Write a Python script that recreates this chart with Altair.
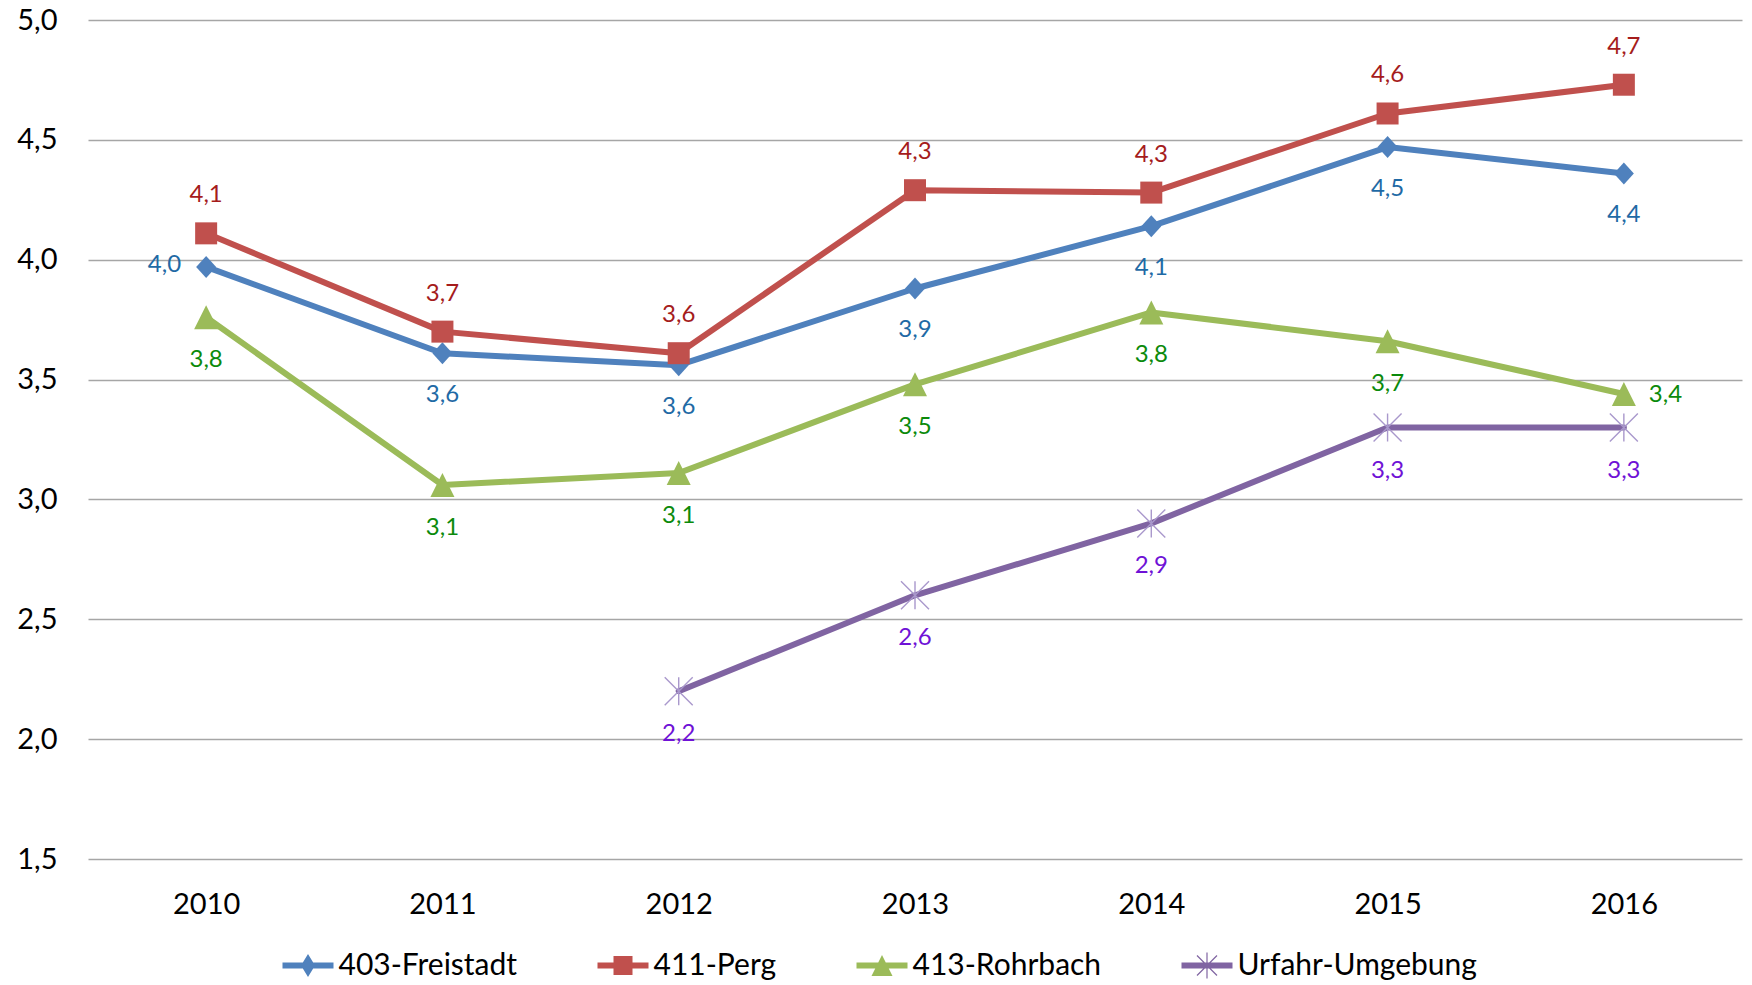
import altair as alt
import pandas as pd

years = ["2010", "2011", "2012", "2013", "2014", "2015", "2016"]
series = ["403-Freistadt", "411-Perg", "413-Rohrbach", "Urfahr-Umgebung"]
freistadt = [3.97, 3.61, 3.56, 3.88, 4.14, 4.47, 4.36]
perg = [4.11, 3.70, 3.61, 4.29, 4.28, 4.61, 4.73]
rohrbach = [3.76, 3.06, 3.11, 3.48, 3.78, 3.66, 3.44]
urfahr = [None, None, 2.20, 2.60, 2.90, 3.30, 3.30]
y_ticks = [1.5, 2.0, 2.5, 3.0, 3.5, 4.0, 4.5, 5.0]

line_colors = ["#4f81bd", "#c0504d", "#9bbb59", "#8064a2"]
label_colors = ["#1f6aa5", "#a51c1c", "#0b8a0b", "#6f12d6"]

rows = []
for s, vals in zip(series, [freistadt, perg, rohrbach, urfahr]):
    for yr, v in zip(years, vals):
        if v is not None:
            rows.append({"year": yr, "series": s, "value": v})
df = pd.DataFrame(rows)

FONT = "Lato"


def bar(x1, y1, x2, y2, w):
    import math
    dx, dy = x2 - x1, y2 - y1
    L = math.hypot(dx, dy)
    nx, ny = -dy / L * w / 2, dx / L * w / 2
    pts = [(x1 + nx, y1 + ny), (x2 + nx, y2 + ny), (x2 - nx, y2 - ny), (x1 - nx, y1 - ny)]
    area = sum(pts[i][0] * pts[(i + 1) % 4][1] - pts[(i + 1) % 4][0] * pts[i][1] for i in range(4))
    if area < 0:
        pts = pts[::-1]
    return "M" + "L".join(f"{p[0]:.3f},{p[1]:.3f}" for p in pts) + "Z"


# marker shapes (unit = sqrt(size)/2 px)
diamond = "M0,-1.1L1,0L0,1.1L-1,0Z"
square = "M-1.1,-1.1L1.1,-1.1L1.1,1.1L-1.1,1.1Z"
triangle = "M0,-1.2L1.2,1.2L-1.2,1.2Z"
asterisk = "M0,-1.4L0,1.4M-1.4,-1.4L1.4,1.4M-1.4,1.4L1.4,-1.4"
marker_paths = [diamond, square, triangle, asterisk]

# legend shapes: line segment + marker
seg = "M-2.55,-0.3L2.55,-0.3L2.55,0.3L-2.55,0.3Z"
legend_paths = [
    seg + "M0,-1.15L0.7,0L0,1.15L-0.7,0Z",
    seg + "M-0.95,-0.95L0.95,-0.95L0.95,0.95L-0.95,0.95Z",
    seg + "M0,-1.05L1.05,1.05L-1.05,1.05Z",
    seg + bar(0, -1.3, 0, 1.3, 0.12) + bar(-1.0, -1.0, 1.0, 1.0, 0.12) + bar(-1.0, 1.0, 1.0, -1.0, 0.12),
]

color_scale = alt.Scale(domain=series, range=line_colors)

X = alt.X(
    "year:O",
    scale=alt.Scale(type="point", padding=0.5, domain=years),
    axis=alt.Axis(title=None, labelAngle=0, domain=False, ticks=False, tickSize=0,
                  grid=False, labelFont=FONT, labelFontSize=29, labelColor="#000000",
                  labelPadding=31),
)
Y = alt.Y(
    "value:Q",
    scale=alt.Scale(domain=[1.5, 5.0], nice=False, zero=False),
    axis=alt.Axis(title=None, values=y_ticks, domain=False, ticks=False, tickSize=0,
                  grid=True, gridColor="#a6a6a6", gridWidth=1.4,
                  labelExpr="replace(format(datum.value, '.1f'), '.', ',')",
                  labelFont=FONT, labelFontSize=29, labelColor="#000000",
                  labelPadding=31),
)

base = alt.Chart(df).transform_calculate(
    label="replace(format(datum.value, '.1f'), '.', ',')"
)

layers = []
for i, s in enumerate(series):
    sub = base.transform_filter(alt.datum.series == s)
    layers.append(
        sub.mark_line(strokeWidth=6, strokeJoin="round", strokeCap="round",
                      color=line_colors[i]).encode(x=X, y=Y)
    )
    if i < 3:
        layers.append(
            sub.mark_point(shape=marker_paths[i], size=400, filled=True, opacity=1,
                           color=line_colors[i]).encode(x=X, y=Y)
        )
    else:
        layers.append(
            sub.mark_point(shape=marker_paths[i], size=400, filled=False, opacity=1,
                           color="#a998cc", strokeWidth=1.4).encode(x=X, y=Y)
        )

# data labels
def labels(sub, color, **kw):
    return sub.mark_text(font=FONT, fontSize=24, color=color, baseline="middle", **kw).encode(
        x=X, y=Y, text="label:N"
    )

fs = base.transform_filter(alt.datum.series == series[0])
layers.append(labels(fs.transform_filter(alt.datum.year != "2010"), label_colors[0], dy=42))
layers.append(labels(fs.transform_filter(alt.datum.year == "2010"), label_colors[0], align="right", dx=-25, dy=-2))
pg = base.transform_filter(alt.datum.series == series[1])
layers.append(labels(pg, label_colors[1], dy=-38))
rb = base.transform_filter(alt.datum.series == series[2])
layers.append(labels(rb.transform_filter(alt.datum.year != "2016"), label_colors[2], dy=43))
layers.append(labels(rb.transform_filter(alt.datum.year == "2016"), label_colors[2], align="left", dx=25, dy=1))
uf = base.transform_filter(alt.datum.series == series[3])
layers.append(labels(uf, label_colors[3], dy=43))

# legend layer (no marks drawn; legend from explicit scale domains)
leg = alt.Legend(
    title=None, orient="none", legendX=205, legendY=930.5, direction="horizontal",
    labelFont=FONT, labelFontSize=30, labelColor="#000000", labelLimit=600,
    symbolSize=400, symbolStrokeWidth=0, labelOffset=15.5, columnPadding=79,
    padding=0, symbolOpacity=1,
)
legend_layer = alt.Chart(df).transform_filter("false").mark_point(filled=True, size=400, opacity=1).encode(
    x=X, y=Y,
    color=alt.Color("series:N", scale=color_scale, legend=leg),
    shape=alt.Shape("series:N", scale=alt.Scale(domain=series, range=legend_paths), legend=leg),
)
layers.append(legend_layer)

chart = alt.layer(*layers).properties(
    width=1654, height=839,
    autosize=alt.AutoSizeParams(type="none"),
    padding={"left": 80, "top": 12, "right": 2, "bottom": 126},
    background="white",
).configure_view(stroke=None)

chart.save("out.html", embed_options={"renderer": "svg", "actions": False})
